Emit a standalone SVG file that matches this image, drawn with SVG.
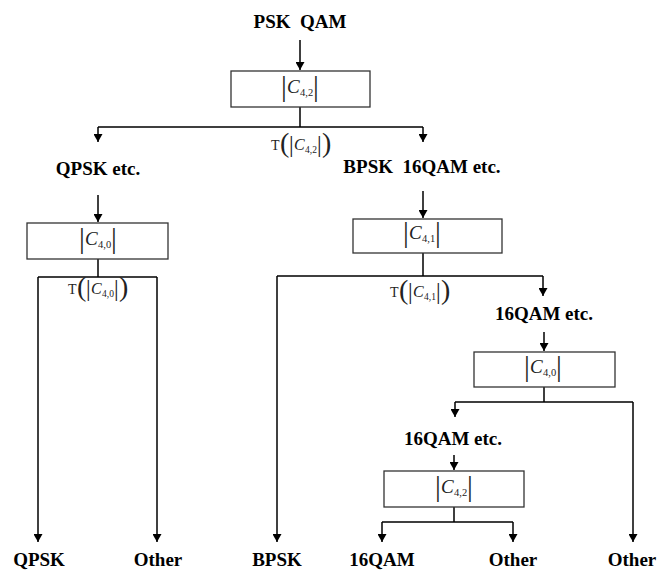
<svg xmlns="http://www.w3.org/2000/svg" width="657" height="570" viewBox="0 0 657 570">
<style>
.lbl{font-family:"Liberation Serif","Times New Roman",serif;font-weight:bold;font-size:19px;text-anchor:middle;white-space:pre;fill:#000}
.box{fill:#fff;stroke:#333;stroke-width:1.3}
.m{font-family:"Liberation Serif","Times New Roman",serif;fill:#222}
.c{font-style:italic;font-size:19px}
.s{font-size:10.5px}
.bar{font-size:29px}
.tt{font-size:14px}
.tp{font-size:28px}
.tb{font-size:23px}
.tc{font-style:italic;font-size:16px}
.ts{font-size:9.5px}
.ln{fill:none;stroke:#000;stroke-width:1.5}
.ar{fill:none;stroke:#000;stroke-width:1.5;marker-end:url(#ah)}
</style>
<defs>
<marker id="ah" markerUnits="userSpaceOnUse" markerWidth="8" markerHeight="9" refX="8" refY="4.5" orient="auto" viewBox="0 0 8 9">
<path d="M0,0 L8,4.5 L0,9 z" fill="#000"/>
</marker>
</defs>
<rect width="657" height="570" fill="#fff"/>

<g id="connectors">
<path class="ar" d="M300,40 V70"/>
<path class="ln" d="M300,107 V127 M98,127 H423"/>
<path class="ar" d="M98,127 V142"/>
<path class="ar" d="M423,127 V142"/>
<path class="ar" d="M98,195 V222"/>
<path class="ln" d="M98,259 V277 M38,277 H157"/>
<path class="ar" d="M38,277 V542"/>
<path class="ar" d="M157,277 V542"/>
<path class="ar" d="M423,191 V218"/>
<path class="ln" d="M423,253 V276 M277,276 H543"/>
<path class="ar" d="M277,276 V542"/>
<path class="ar" d="M543,276 V296"/>
<path class="ar" d="M544,332 V351"/>
<path class="ln" d="M544,387 V402 M455,402 H633"/>
<path class="ar" d="M455,402 V417"/>
<path class="ar" d="M633,402 V542"/>
<path class="ar" d="M454,455 V470"/>
<path class="ln" d="M454,507 V522 M382,522 H513"/>
<path class="ar" d="M382,522 V542"/>
<path class="ar" d="M513,522 V542"/>
</g>

<g id="root"><text class="lbl" x="300" y="28">PSK  QAM</text></g>

<g id="test1">
<rect class="box" x="231" y="71" width="139" height="36"/>
<text class="m"><tspan class="bar" x="281" y="96">|</tspan><tspan class="c" x="287" y="93">C</tspan><tspan class="s" x="300" y="96">4,2</tspan><tspan class="bar" x="313" y="96">|</tspan></text>
</g>
<g id="thr1"><text class="m"><tspan class="tt" x="271" y="150">T</tspan><tspan class="tp" x="280" y="152">(</tspan><tspan class="tb" x="289" y="152">|</tspan><tspan class="tc" x="294" y="150">C</tspan><tspan class="ts" x="305" y="153">4,2</tspan><tspan class="tb" x="317" y="152">|</tspan><tspan class="tp" x="322" y="152">)</tspan></text></g>

<g id="qpsk-etc"><text class="lbl" x="98" y="175">QPSK etc.</text></g>
<g id="bpsk-16qam-etc"><text class="lbl" x="422" y="173">BPSK  16QAM etc.</text></g>

<g id="test2">
<rect class="box" x="27" y="223" width="141" height="36"/>
<text class="m"><tspan class="bar" x="79" y="248">|</tspan><tspan class="c" x="85" y="245">C</tspan><tspan class="s" x="98" y="248">4,0</tspan><tspan class="bar" x="111" y="248">|</tspan></text>
</g>
<g id="thr2"><text class="m"><tspan class="tt" x="68" y="294">T</tspan><tspan class="tp" x="77" y="296">(</tspan><tspan class="tb" x="86" y="296">|</tspan><tspan class="tc" x="91" y="294">C</tspan><tspan class="ts" x="102" y="297">4,0</tspan><tspan class="tb" x="114" y="296">|</tspan><tspan class="tp" x="119" y="296">)</tspan></text></g>

<g id="test3">
<rect class="box" x="353" y="219" width="149" height="34"/>
<text class="m"><tspan class="bar" x="403" y="242">|</tspan><tspan class="c" x="409" y="239">C</tspan><tspan class="s" x="422" y="242">4,1</tspan><tspan class="bar" x="435" y="242">|</tspan></text>
</g>
<g id="thr3"><text class="m"><tspan class="tt" x="390" y="297">T</tspan><tspan class="tp" x="399" y="299">(</tspan><tspan class="tb" x="408" y="299">|</tspan><tspan class="tc" x="413" y="297">C</tspan><tspan class="ts" x="424" y="300">4,1</tspan><tspan class="tb" x="436" y="299">|</tspan><tspan class="tp" x="441" y="299">)</tspan></text></g>

<g id="qam16-etc-1"><text class="lbl" x="544" y="320">16QAM etc.</text></g>

<g id="test4">
<rect class="box" x="474" y="352" width="141" height="35"/>
<text class="m"><tspan class="bar" x="524" y="376">|</tspan><tspan class="c" x="530" y="373">C</tspan><tspan class="s" x="543" y="376">4,0</tspan><tspan class="bar" x="556" y="376">|</tspan></text>
</g>

<g id="qam16-etc-2"><text class="lbl" x="453" y="445">16QAM etc.</text></g>

<g id="test5">
<rect class="box" x="384" y="471" width="140" height="36"/>
<text class="m"><tspan class="bar" x="435" y="496">|</tspan><tspan class="c" x="441" y="493">C</tspan><tspan class="s" x="454" y="496">4,2</tspan><tspan class="bar" x="467" y="496">|</tspan></text>
</g>

<g id="leaf-qpsk"><text class="lbl" x="39" y="566">QPSK</text></g>
<g id="leaf-other1"><text class="lbl" x="158" y="566">Other</text></g>
<g id="leaf-bpsk"><text class="lbl" x="277" y="566">BPSK</text></g>
<g id="leaf-16qam"><text class="lbl" x="382" y="566">16QAM</text></g>
<g id="leaf-other2"><text class="lbl" x="513" y="566">Other</text></g>
<g id="leaf-other3"><text class="lbl" x="632" y="566">Other</text></g>
</svg>
